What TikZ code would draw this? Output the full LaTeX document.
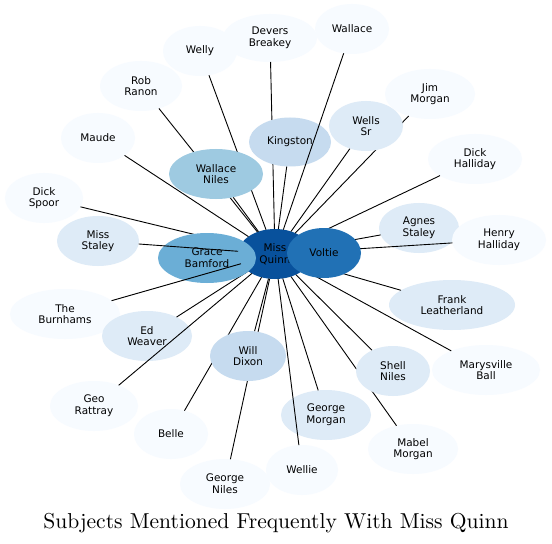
\documentclass[tikz,border=0pt]{standalone}
\usepackage{fontspec}
\usepackage{graphicx}
\usetikzlibrary{shapes.geometric}
\newfontfamily\nodefont{DejaVu Sans}
\definecolor{bA}{HTML}{F7FBFF}
\definecolor{bB}{HTML}{DEEBF7}
\definecolor{bC}{HTML}{C6DBEF}
\definecolor{bD}{HTML}{9ECAE1}
\definecolor{bE}{HTML}{6BAED6}
\definecolor{bF}{HTML}{2171B5}
\definecolor{bG}{HTML}{08519C}
\pgfdeclarelayer{edgelayer}
\pgfdeclarelayer{coverlayer}
\pgfdeclarelayer{topedgelayer}
\pgfsetlayers{main,edgelayer,coverlayer,topedgelayer}
\begin{document}
\begin{tikzpicture}[x=1bp,y=-1bp,
  person/.style={ellipse, draw=none, inner sep=0pt, outer sep=0pt, align=center,
    font=\nodefont\fontsize{10.5}{11.7}\selectfont, text=black},
  sz/.style 2 args={minimum width=#1bp, minimum height=#2bp},
  link/.style={draw=black, line width=0.9bp}]
\useasboundingbox[fill=white] (0,0) rectangle (552,544);

% base nodes
\node[person, fill=bG, sz={74}{50}] (mq) at (275,254) {Miss\\Quinn};
\node[person, fill=bA, sz={74}{50}] (welly) at (200,51) {Welly};
\node[person, fill=bA, sz={94}{48}] (devers) at (270,38) {Devers\\Breakey};
\node[person, fill=bA, sz={74}{50}] (wallace) at (352,29) {Wallace};
\node[person, fill=bA, sz={82}{50}] (rob) at (141,86) {Rob\\Ranon};
\node[person, fill=bA, sz={74}{50}] (maude) at (98,138) {Maude};
\node[person, fill=bA, sz={78}{50}] (spoor) at (44,198) {Dick\\Spoor};
\node[person, fill=bB, sz={82}{50}] (mstaley) at (98,241) {Miss\\Staley};
\node[person, fill=bA, sz={90}{50}] (jim) at (430,94) {Jim\\Morgan};
\node[person, fill=bA, sz={94}{50}] (dhalliday) at (475,159) {Dick\\Halliday};
\node[person, fill=bB, sz={80}{50}] (agnes) at (419,228) {Agnes\\Staley};
\node[person, fill=bA, sz={94}{50}] (henry) at (499,240) {Henry\\Halliday};
\node[person, fill=bB, sz={126}{50}] (frank) at (452,305) {Frank\\Leatherland};
\node[person, fill=bA, sz={108}{50}] (marysville) at (486,370) {Marysville\\Ball};
\node[person, fill=bA, sz={90}{50}] (mabel) at (413,449) {Mabel\\Morgan};
\node[person, fill=bB, sz={90}{50}] (gmorgan) at (326,415) {George\\Morgan};
\node[person, fill=bA, sz={72}{50}] (wellie) at (302,470) {Wellie};
\node[person, fill=bA, sz={90}{50}] (gniles) at (225,484) {George\\Niles};
\node[person, fill=bA, sz={74}{50}] (belle) at (171,434) {Belle};
\node[person, fill=bA, sz={88}{50}] (geo) at (94,406) {Geo\\Rattray};
\node[person, fill=bA, sz={110}{50}] (burn) at (65,314) {The\\Burnhams};
\node[person, fill=bB, sz={90}{50}] (edw) at (147,336) {Ed\\Weaver};

% nodes that lie over some connectors
\begin{pgfonlayer}{coverlayer}
\node[person, fill=bE, sz={98}{50}] (grace) at (207,258) {Grace\\Bamford};
\node[person, fill=bF, sz={74}{50}] (voltie) at (324,253) {Voltie};
\node[person, fill=bD, sz={94}{50}] (wniles) at (216,174) {Wallace\\Niles};
\node[person, fill=bC, sz={82}{49}] (kingston) at (290,142) {Kingston};
\node[person, fill=bB, sz={74}{50}] (wellssr) at (366,126) {Wells\\Sr};
\node[person, fill=bC, sz={76}{50}] (wdixon) at (248,356) {Will\\Dixon};
\node[person, fill=bB, sz={74}{50}] (shell) at (393,371) {Shell\\Niles};
\end{pgfonlayer}

% connectors
\begin{pgfonlayer}{edgelayer}
\foreach \t in {welly,devers,rob,maude,spoor,jim,dhalliday,agnes,henry,frank,
  marysville,mabel,gmorgan,wellie,gniles,belle,geo,edw,
  voltie,wniles,kingston,wellssr,wdixon,shell}
  {\draw[link] (mq) -- (\t);}
\end{pgfonlayer}
\begin{pgfonlayer}{topedgelayer}
\foreach \t in {wallace,mstaley,burn}
  {\draw[link] (mq) -- (\t);}
\end{pgfonlayer}

\node[font=\fontsize{10}{12}\selectfont, inner sep=0pt] (title) at (276,523)
  {\resizebox{465bp}{!}{Subjects Mentioned Frequently With Miss Quinn}};
\end{tikzpicture}
\end{document}
